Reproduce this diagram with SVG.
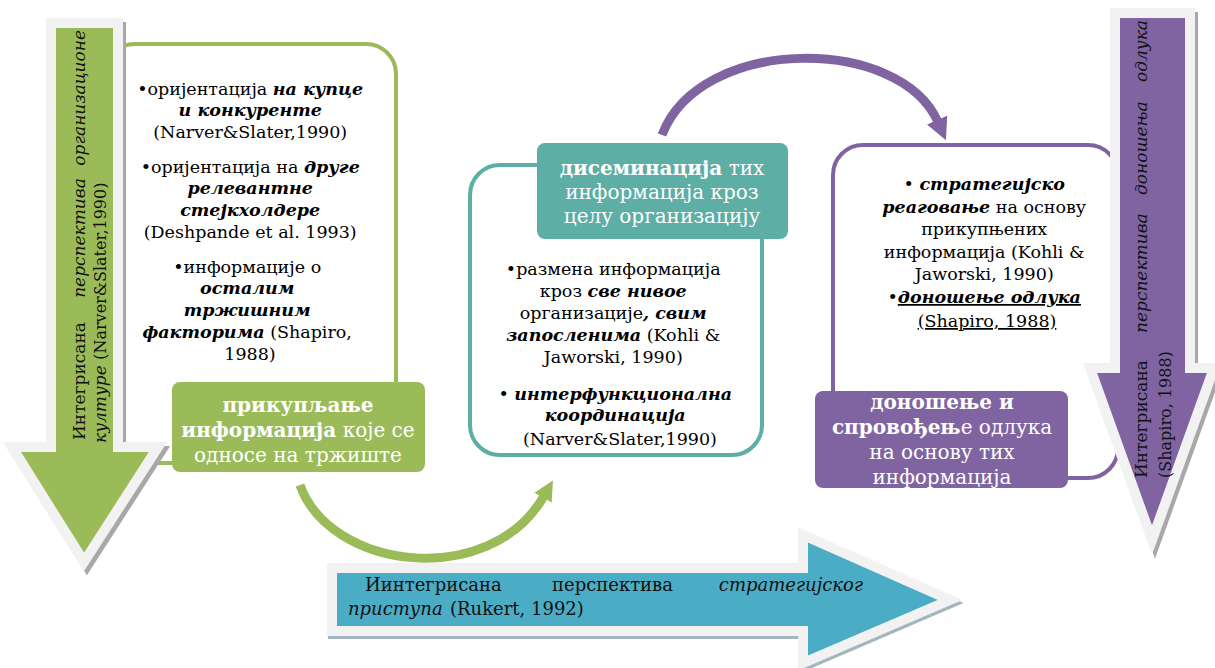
<svg xmlns="http://www.w3.org/2000/svg" width="1215" height="668" viewBox="0 0 1215 668">
<defs>
<style>
text{font-family:"DejaVu Serif","Liberation Serif",serif}
.lst{font-size:17.5px;fill:#000;text-anchor:middle}
.bx{font-size:20px;fill:#fff;text-anchor:middle}
.ar{font-size:18px;fill:#111}
.rt{font-size:17px}
.sm{font-size:16px}
.b{font-weight:bold}
.i{font-style:italic}
.bi{font-weight:bold;font-style:italic}
.u{text-decoration:underline}
.olG{fill:none;stroke:#9BBB59;stroke-width:4}
.olT{fill:none;stroke:#5DAEA4;stroke-width:4}
.olP{fill:none;stroke:#8064A2;stroke-width:4}
.brd{stroke:#F2F2F2;stroke-width:10;stroke-linejoin:miter}
.shd{fill:#A8A8A8;stroke:#A8A8A8;stroke-width:10;stroke-linejoin:miter}
</style>
<marker id="headG" markerUnits="userSpaceOnUse" markerWidth="20" markerHeight="20" viewBox="0 0 10 10" refX="1" refY="5" orient="auto">
<path d="M0,0 L10,5 L0,10 z" fill="#9BBB59"/>
</marker>
<marker id="headP" markerUnits="userSpaceOnUse" markerWidth="22" markerHeight="22" viewBox="0 0 10 10" refX="1" refY="5" orient="auto">
<path d="M0,0 L10,5 L0,10 z" fill="#8064A2"/>
</marker>
</defs>
<rect width="1215" height="668" fill="#fff"/>

<g id="gather">
<rect class="olG" x="105" y="44" width="291" height="419" rx="30"/>
<rect x="172" y="382" width="253" height="90" rx="8" fill="#9BBB59"/>
<text class="bx"><tspan x="298" y="412" class="b">прикупљање</tspan><tspan x="298" y="437"><tspan class="b">информација</tspan> које се</tspan><tspan x="298" y="462">односе на тржиште</tspan></text>
<text class="lst">
<tspan x="253" y="95">•оријентација <tspan class="bi">на купце</tspan></tspan>
<tspan x="253" y="116" class="bi">и конкуренте</tspan>
<tspan x="253" y="138">(Narver&amp;Slater,1990)</tspan>
<tspan x="253" y="173">•оријентација на <tspan class="bi">друге</tspan></tspan>
<tspan x="253" y="194" class="bi">релевантне</tspan>
<tspan x="253" y="216" class="bi">стејкхолдере</tspan>
<tspan x="253" y="238">(Deshpande et al. 1993)</tspan>
<tspan x="250" y="273">•информације о</tspan>
<tspan x="250" y="294" class="bi">осталим</tspan>
<tspan x="250" y="316" class="bi">тржишним</tspan>
<tspan x="250" y="338"><tspan class="bi">факторима</tspan> (Shapiro,</tspan>
<tspan x="250" y="360">1988)</tspan>
</text>
</g>

<g id="disseminate">
<rect class="olT" x="470" y="165" width="292" height="290" rx="30"/>
<rect x="537" y="143" width="251" height="96" rx="8" fill="#5DAEA4"/>
<text class="bx"><tspan x="662" y="175"><tspan class="b">дисеминација</tspan> тих</tspan><tspan x="662" y="199">информација кроз</tspan><tspan x="662" y="223">целу организацију</tspan></text>
<text class="lst">
<tspan x="616" y="275">•размена информација</tspan>
<tspan x="616" y="297">кроз <tspan class="bi">све нивое</tspan></tspan>
<tspan x="616" y="319">организације<tspan class="bi">, свим</tspan></tspan>
<tspan x="616" y="341"><tspan class="bi">запосленима</tspan> (Kohli &amp;</tspan>
<tspan x="616" y="363">Jaworski, 1990)</tspan>
<tspan x="618" y="400">• <tspan class="bi">интерфункционална</tspan></tspan>
<tspan x="618" y="421" class="bi">координација</tspan>
<tspan x="620" y="445">(Narver&amp;Slater,1990)</tspan>
</text>
</g>

<g id="respond">
<rect class="olP" x="833" y="145" width="285" height="333" rx="30"/>
<rect x="815" y="391" width="253" height="97" rx="8" fill="#8064A2"/>
<text class="bx"><tspan x="942" y="409" class="b">доношење и</tspan><tspan x="942" y="434"><tspan class="b">спровођењ</tspan>е одлука</tspan><tspan x="942" y="459">на основу тих</tspan><tspan x="942" y="484">информација</tspan></text>
<text class="lst">
<tspan x="987" y="190">• <tspan class="bi">стратегијско</tspan></tspan>
<tspan x="987" y="213"><tspan class="bi">реаговање</tspan> на основу</tspan>
<tspan x="987" y="235">прикупњених</tspan>
<tspan x="987" y="258">информација (Kohli &amp;</tspan>
<tspan x="987" y="280">Jaworski, 1990)</tspan>
<tspan x="987" y="303">•<tspan class="bi u">доношење одлука</tspan></tspan>
<tspan x="987" y="327" class="u">(Shapiro, 1988)</tspan>
</text>
</g>

<g id="connectors">
<path d="M300,485 C330,570 490,590 544,496" fill="none" stroke="#9BBB59" stroke-width="9" marker-end="url(#headG)"/>
<path d="M662,135 C700,35 900,35 938,122" fill="none" stroke="#8064A2" stroke-width="9" marker-end="url(#headP)"/>
</g>

<g id="culture-arrow">
<polygon class="shd" points="51,23 118,23 118,447 158,447 84,562 12,447 51,447" transform="translate(3,4)"/>
<polygon class="brd" fill="#9BBB59" points="51,23 118,23 118,447 158,447 84,562 12,447 51,447"/>
<text class="ar rt" transform="translate(85,440) rotate(-90)"><tspan x="0" y="0">Интегрисана</tspan><tspan x="202" y="0" class="i" text-anchor="middle">перспектива</tspan><tspan x="410" y="0" class="i" text-anchor="end">организационе</tspan></text>
<text class="ar rt" transform="translate(106,443) rotate(-90)"><tspan class="i">културе</tspan> <tspan class="sm">(Narver&amp;Slater,1990)</tspan></text>
</g>

<g id="decision-arrow">
<polygon class="shd" points="1115,13 1190,13 1190,368 1214,368 1152,540 1090,368 1115,368" transform="translate(3,4)"/>
<polygon class="brd" fill="#8064A2" points="1115,13 1190,13 1190,368 1214,368 1152,540 1090,368 1115,368"/>
<text class="ar rt" transform="translate(1147,478) rotate(-90)"><tspan x="0" y="0">Интегрисана</tspan><tspan x="145" y="0" class="i">перспектива</tspan><tspan x="283" y="0" class="i">доношења</tspan><tspan x="458" y="0" class="i" text-anchor="end">одлука</tspan></text>
<text class="ar rt" transform="translate(1171,478) rotate(-90)"><tspan class="sm">(Shapiro, 1988)</tspan></text>
</g>

<g id="strategy-arrow">
<polygon points="332,568 803,568 803,535 950,600 803,663 803,631 332,631" transform="translate(1,3)" fill="#A3B6BF" stroke="#A3B6BF" stroke-width="10" stroke-linejoin="miter"/>
<polygon class="brd" fill="#4BACC6" points="332,568 803,568 803,535 950,600 803,663 803,631 332,631"/>
<text class="ar"><tspan x="365" y="591">Иинтегрисана</tspan><tspan x="552" y="591">перспектива</tspan><tspan x="863" y="591" class="i" text-anchor="end">стратегијског</tspan></text>
<text class="ar"><tspan x="348" y="615" class="i">приступа</tspan><tspan x="450" y="615">(Rukert, 1992)</tspan></text>
</g>
</svg>
